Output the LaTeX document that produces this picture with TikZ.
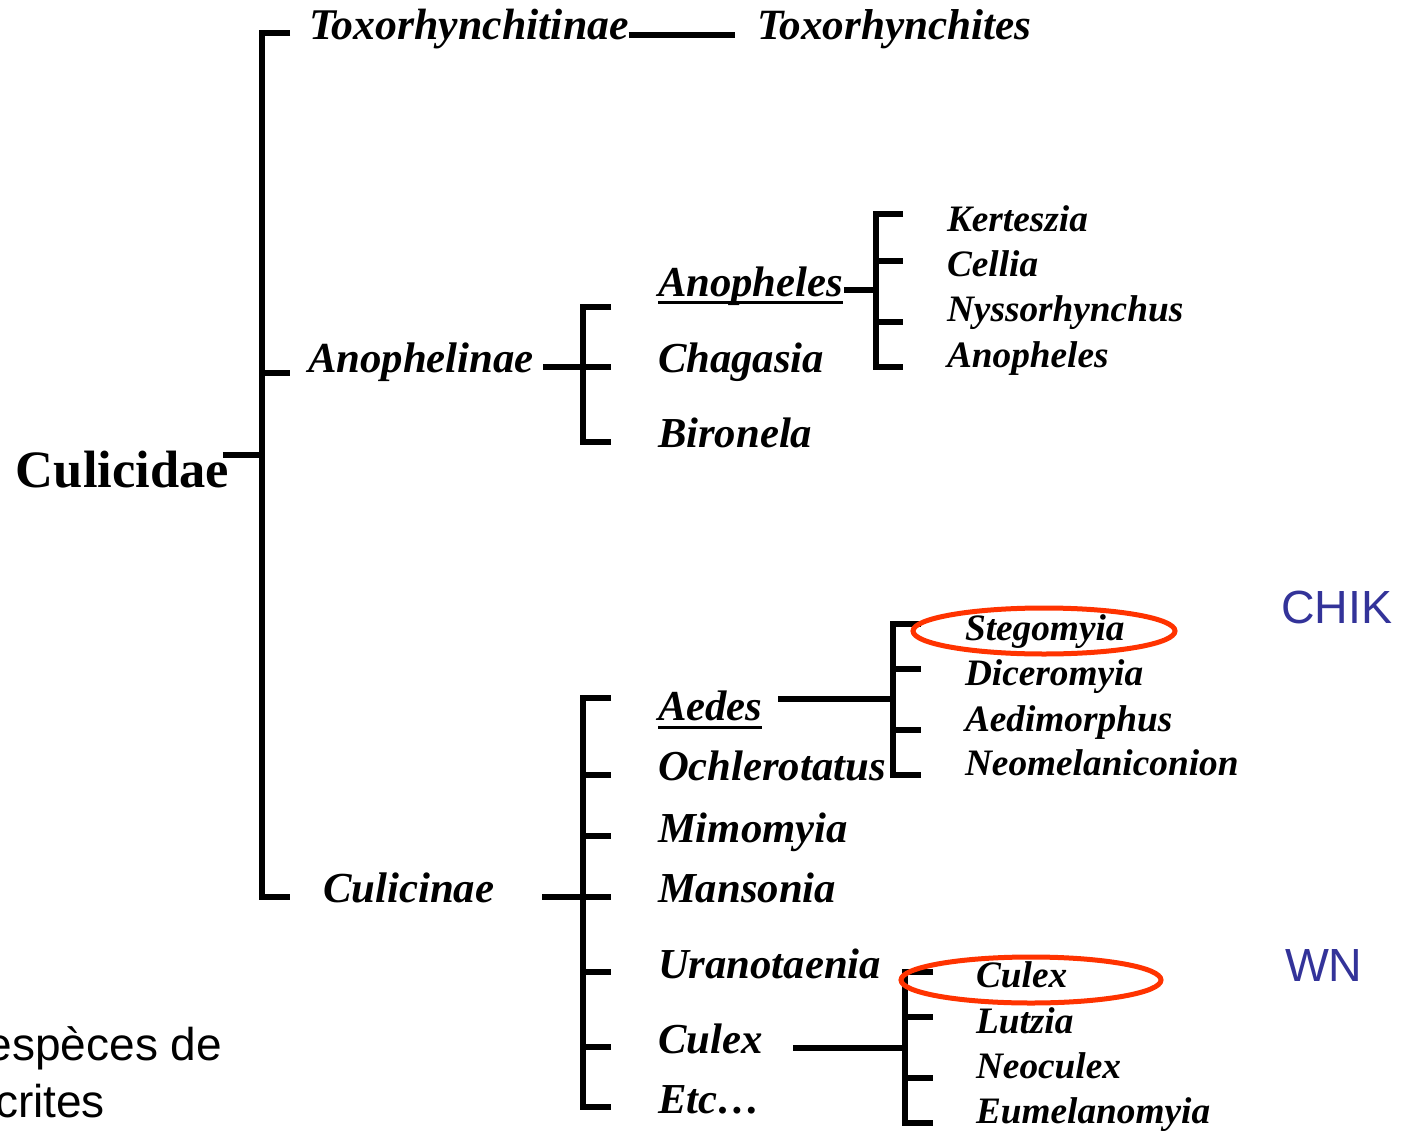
\documentclass[tikz,border=0pt]{standalone}
\usepackage{fontspec}
\setmainfont{Liberation Serif}
\newfontfamily\arialf{Liberation Sans}
\definecolor{virblue}{RGB}{51,51,153}
\definecolor{ringred}{RGB}{255,51,0}
\begin{document}
\begin{tikzpicture}[x=1pt,y=-1pt,
  every node/.style={inner sep=0pt, outer sep=0pt, anchor=base west},
  fam/.style={font=\fontsize{42.8}{42.8}\selectfont\bfseries\itshape},
  gen/.style={font=\fontsize{42.7}{42.7}\selectfont\bfseries\itshape},
  subg/.style={font=\fontsize{37.3}{37.3}\selectfont\bfseries\itshape},
  virus/.style={font=\fontsize{46.5}{46.5}\selectfont\arialf, text=virblue},
  note/.style={font=\fontsize{46}{46}\selectfont\arialf, anchor=base east},
  br/.style={line width=5.5pt},
  ul/.style={line width=3pt},
  ring/.style={draw=ringred, line width=5pt}]
\useasboundingbox (0,0) rectangle (1407,1131);
\clip (0,0) rectangle (1407,1131);
\fill[white] (0,0) rectangle (1407,1131);

% nodes
\node[font=\fontsize{52.5}{52.5}\selectfont\bfseries] (culicidae) at (16,487) {Culicidae};
\node[fam, font=\fontsize{43.8}{43.8}\selectfont\bfseries\itshape] (toxo) at (309,40) {Toxorhynchitinae};
\node[fam, font=\fontsize{43.2}{43.2}\selectfont\bfseries\itshape] (toxos) at (757,40) {Toxorhynchites};
\node[fam] (anophelinae) at (308,372) {Anophelinae};
\node[fam] (culicinae) at (323,902) {Culicinae};

\node[gen] (anoph) at (658,297) {Anopheles};
\node[gen] (chag) at (658,372) {Chagasia};
\node[gen] (biro) at (658,447) {Bironela};

\node[subg] (kert) at (947,232) {Kerteszia};
\node[subg] (cell) at (947,277) {Cellia};
\node[subg] (nyss) at (947,322) {Nyssorhynchus};
\node[subg] (anophs) at (947,367) {Anopheles};

\node[gen] (aedes) at (658,720) {Aedes};
\node[gen] (ochl) at (658,780) {Ochlerotatus};
\node[gen] (mimo) at (658,842) {Mimomyia};
\node[gen] (mans) at (658,902) {Mansonia};
\node[gen] (uran) at (658,978) {Uranotaenia};
\node[gen] (culex) at (658,1053) {Culex};
\node[gen] (etc) at (658,1113) {Etc…};

\node[subg] (steg) at (965,640) {Stegomyia};
\node[subg] (dice) at (965,685) {Diceromyia};
\node[subg] (aedi) at (965,731) {Aedimorphus};
\node[subg] (neom) at (965,775) {Neomelaniconion};

\node[subg] (culexs) at (976,987) {Culex};
\node[subg] (lutz) at (976,1033) {Lutzia};
\node[subg] (neoc) at (976,1078) {Neoculex};
\node[subg] (eume) at (976,1123) {Eumelanomyia};

\node[virus] (chik) at (1281,623) {CHIK};
\node[virus] (wn) at (1285,981) {WN};
\node[note] (esp) at (222,1060) {espèces de};
\node[note] (crit) at (105,1117) {crites};

% underlines
\draw[ul] ([yshift=-6pt]anoph.base west) -- ([yshift=-6pt]anoph.base east);
\draw[ul] ([yshift=-7pt]aedes.base west) -- ([yshift=-7pt]aedes.base east);

% main bracket
\coordinate (root) at (262,455);
\draw[br] (290,33) -- (262,33) -- (262,897) -- (290,897);
\draw[br] (262,373) -- (290,373);
\draw[br] ([xshift=-6pt]culicidae.east |- root) -- (root);
\draw[br] (toxo.east |- 0,35) -- (735,35);

% Anophelinae bracket
\draw[br] (611,307) -- (583,307) -- (583,442) -- (611,442);
\draw[br] (543,367) -- (611,367);

% Anopheles subgenera
\draw[br] (903,214) -- (876,214) -- (876,367) -- (903,367);
\draw[br] (876,261) -- (903,261);
\draw[br] (876,322) -- (903,322);
\draw[br] (844,290) -- (876,290);

% Culicinae bracket
\draw[br] (611,698) -- (583,698) -- (583,1107) -- (611,1107);
\foreach \yy in {775,836,972,1047} \draw[br] (583,\yy) -- (611,\yy);
\draw[br] (542,897) -- (611,897);

% Aedes subgenera
\draw[br] (921,624) -- (893,624) -- (893,775) -- (921,775);
\draw[br] (893,669) -- (921,669);
\draw[br] (893,730) -- (921,730);
\draw[br] (778,699) -- (893,699);

% Culex subgenera
\draw[br] (933,972) -- (905,972) -- (905,1123) -- (933,1123);
\draw[br] (905,1017) -- (933,1017);
\draw[br] (905,1078) -- (933,1078);
\draw[br] (793,1048) -- (905,1048);

% rings
\draw[ring] (1044,631) ellipse [x radius=131pt, y radius=23pt];
\draw[ring] (1031,980) ellipse [x radius=130pt, y radius=23pt];
\end{tikzpicture}
\end{document}
